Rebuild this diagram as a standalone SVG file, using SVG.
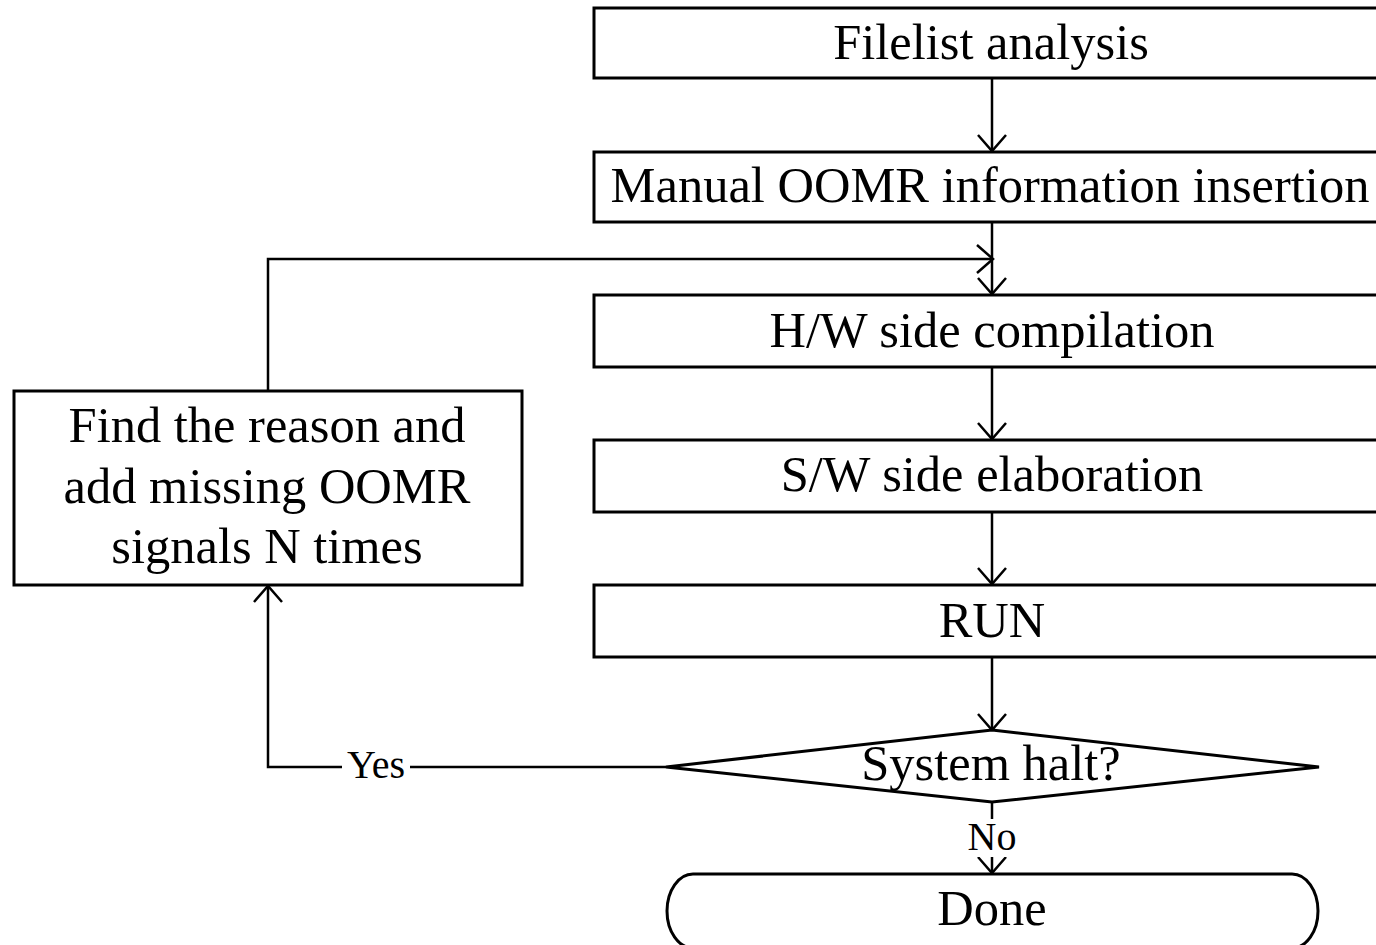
<svg xmlns="http://www.w3.org/2000/svg" width="1376" height="945" viewBox="0 0 1376 945">
  <style>
    .box { fill: #ffffff; stroke: #000000; stroke-width: 3; }
    .lbl { font-family: "Liberation Serif", "Times New Roman", serif; font-size: 50.5px; fill: #000000; text-anchor: middle; }
    .small { font-family: "Liberation Serif", "Times New Roman", serif; font-size: 40px; fill: #000000; text-anchor: middle; }
    .wire { fill: none; stroke: #000000; stroke-width: 2.5; }
  </style>
  <defs>
    <marker id="arrow" markerUnits="userSpaceOnUse" markerWidth="40" markerHeight="40" refX="0" refY="0" viewBox="-20 -20 40 40" orient="auto" overflow="visible">
      <path d="M -16,-14 L 0,0 L -16,14" fill="none" stroke="#000000" stroke-width="2.5"/>
    </marker>
  </defs>
  <rect width="1376" height="945" fill="#ffffff"/>

  <!-- connectors -->
  <g id="connectors">
    <line class="wire" x1="992" y1="78" x2="992" y2="151" marker-end="url(#arrow)"/>
    <line class="wire" x1="992" y1="222" x2="992" y2="294" marker-end="url(#arrow)"/>
    <polyline class="wire" points="268,390 268,259 993,259" marker-end="url(#arrow)"/>
    <line class="wire" x1="992" y1="367" x2="992" y2="439" marker-end="url(#arrow)"/>
    <line class="wire" x1="992" y1="512" x2="992" y2="584" marker-end="url(#arrow)"/>
    <line class="wire" x1="992" y1="657" x2="992" y2="730" marker-end="url(#arrow)"/>
    <polyline class="wire" points="666,767 268,767 268,586" marker-end="url(#arrow)"/>
    <line class="wire" x1="992" y1="802" x2="992" y2="873" marker-end="url(#arrow)"/>
    <!-- branch labels -->
    <rect x="342" y="745" width="68" height="40" fill="#ffffff"/>
    <text class="small" x="376" y="778">Yes</text>
    <rect x="965" y="819" width="54" height="38" fill="#ffffff"/>
    <text class="small" x="992" y="850">No</text>
  </g>

  <g id="filelist">
    <rect class="box" x="594" y="8" width="790" height="70"/>
    <text class="lbl" x="991" y="59">Filelist analysis</text>
  </g>

  <g id="manual-oomr">
    <rect class="box" x="594" y="152" width="790" height="70"/>
    <text class="lbl" x="990" y="202">Manual OOMR information insertion</text>
  </g>

  <g id="hw-compile">
    <rect class="box" x="594" y="295" width="790" height="72"/>
    <text class="lbl" x="992" y="347">H/W side compilation</text>
  </g>

  <g id="sw-elab">
    <rect class="box" x="594" y="440" width="790" height="72"/>
    <text class="lbl" x="992" y="491">S/W side elaboration</text>
  </g>

  <g id="run">
    <rect class="box" x="594" y="585" width="790" height="72"/>
    <text class="lbl" x="992" y="637">RUN</text>
  </g>

  <g id="halt">
    <polygon class="box" points="992,730 1319,767 992,802 666,767"/>
    <text class="lbl" x="991" y="780">System halt?</text>
  </g>

  <g id="fix">
    <rect class="box" x="14" y="391" width="508" height="194"/>
    <text class="lbl" x="267" y="442">Find the reason and</text>
    <text class="lbl" x="267" y="503">add missing OOMR</text>
    <text class="lbl" x="267" y="563">signals N times</text>
  </g>

  <g id="done">
    <rect class="box" x="667" y="874" width="651" height="74" rx="26" ry="37"/>
    <text class="lbl" x="992" y="925">Done</text>
  </g>
</svg>
